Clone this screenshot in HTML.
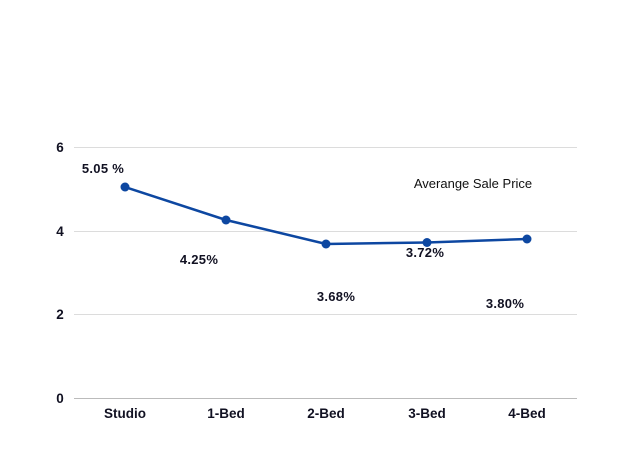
<!DOCTYPE html>
<html><head><style>body{margin:0;background:#fff}</style></head><body>
<svg width="624" height="468" xmlns="http://www.w3.org/2000/svg" font-family="Liberation Sans, sans-serif" font-weight="bold" fill="#111122">
<g stroke="#dcdcdc" stroke-width="1">
<line x1="74" y1="147.5" x2="577" y2="147.5"/>
<line x1="74" y1="231.5" x2="577" y2="231.5"/>
<line x1="74" y1="314.5" x2="577" y2="314.5"/>
</g>
<line x1="74" y1="398.5" x2="577" y2="398.5" stroke="#bbb"/>
<g font-size="13.5" text-anchor="middle">
<text x="60" y="152">6</text><text x="60" y="236">4</text><text x="60" y="319">2</text><text x="60" y="403">0</text>
<text x="125" y="418">Studio</text><text x="226" y="418">1-Bed</text><text x="326" y="418">2-Bed</text><text x="427" y="418">3-Bed</text><text x="527" y="418">4-Bed</text>
</g>
<polyline points="125,187 226,220 326,244 427,242.5 527,239" fill="none" stroke="#0d47a1" stroke-width="2.5"/>
<g fill="#0d47a1"><circle cx="125" cy="187" r="4.5"/><circle cx="226" cy="220" r="4.5"/><circle cx="326" cy="244" r="4.5"/><circle cx="427" cy="242.5" r="4.5"/><circle cx="527" cy="239" r="4.5"/></g>
<g font-size="13" text-anchor="middle" letter-spacing="0.3">
<text x="103" y="173">5.05 %</text><text x="199" y="264">4.25%</text><text x="336" y="301">3.68%</text><text x="425" y="257">3.72%</text><text x="505" y="308">3.80%</text>
</g>
<text x="473" y="188" font-size="13" font-weight="normal" fill="#111" text-anchor="middle">Averange Sale Price</text>
</svg>
</body></html>
